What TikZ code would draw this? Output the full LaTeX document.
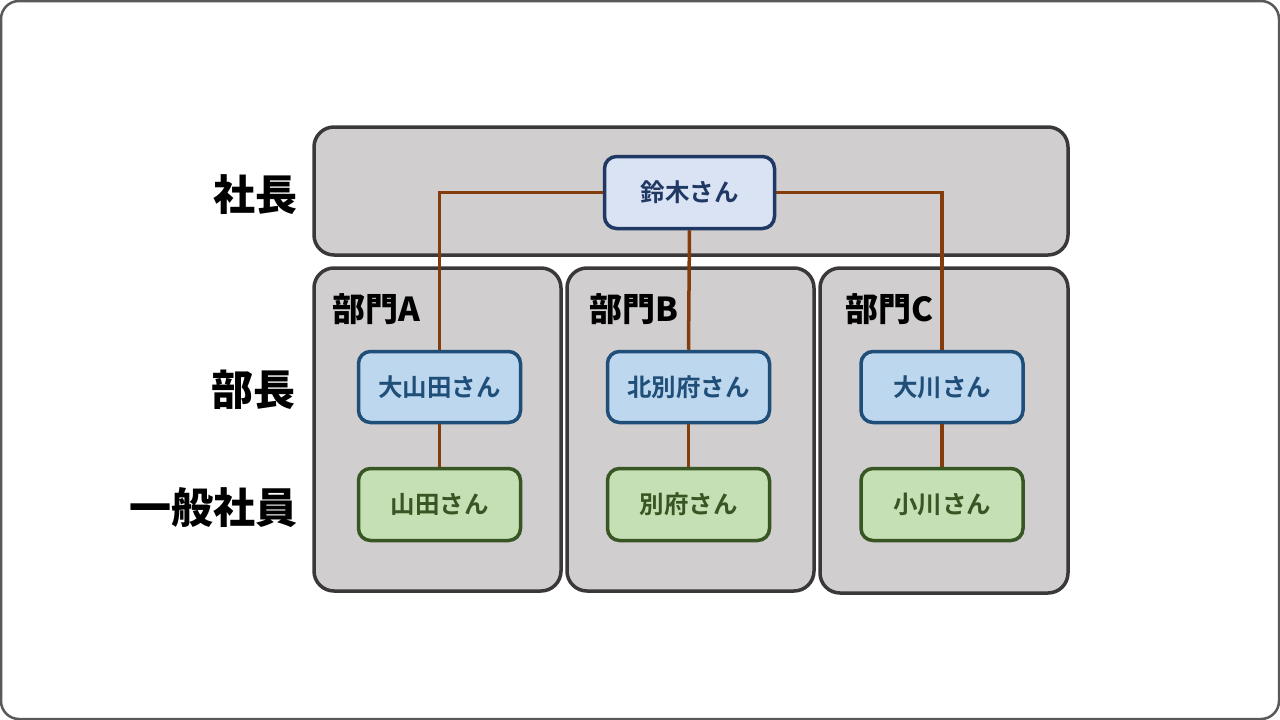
\documentclass[tikz,border=0pt]{standalone}
\usepackage{fontspec}
\setmainfont{Noto Sans CJK JP}[BoldFont={Noto Sans CJK JP Black}]
\newfontfamily\jpbold{Noto Sans CJK JP Bold}
\definecolor{framegray}{HTML}{595959}
\definecolor{panelfill}{HTML}{D0CECE}
\definecolor{paneldraw}{HTML}{3B3838}
\definecolor{topfill}{HTML}{DAE3F3}
\definecolor{topdraw}{HTML}{203864}
\definecolor{midfill}{HTML}{BDD7EE}
\definecolor{middraw}{HTML}{1F4E79}
\definecolor{lowfill}{HTML}{C5E0B4}
\definecolor{lowdraw}{HTML}{375623}
\definecolor{linkcol}{HTML}{843C0C}
\tikzset{
  panel/.style={draw=paneldraw, fill=panelfill, line width=3.5pt, rounded corners=20pt},
  person/.style={rounded corners=12pt, line width=3.5pt, font=\fontsize{24.5}{28}\selectfont\jpbold, inner sep=0pt},
  toprole/.style={person, draw=topdraw, fill=topfill, text=topdraw, minimum width=170pt, minimum height=72pt},
  midrole/.style={person, draw=middraw, fill=midfill, text=middraw, minimum width=162pt, minimum height=71pt},
  lowrole/.style={person, draw=lowdraw, fill=lowfill, text=lowdraw, minimum width=162pt, minimum height=72pt},
  rowlabel/.style={anchor=east, font=\fontsize{42}{46}\selectfont\bfseries, inner sep=0pt},
  deptlabel/.style={anchor=west, font=\fontsize{33}{36}\selectfont\bfseries, inner sep=0pt},
  link/.style={draw=linkcol, line width=3.5pt}
}
\begin{document}
\begin{tikzpicture}[x=1pt, y=-1pt]
\useasboundingbox (0,0) rectangle (1280,720);
\draw[framegray, line width=2.5pt, rounded corners=18pt] (1,1) rectangle (1279,719);
% panels
\draw[panel] (314,127) rectangle (1068,255);
\draw[panel] (314,268) rectangle (561,591);
\draw[panel] (567,268) rectangle (814,591);
\draw[panel] (820,268) rectangle (1068,593);
% row labels
\node[rowlabel] (lbl1) at (298,195) {社長};
\node[rowlabel] (lbl2) at (296,390) {部長};
\node[rowlabel] (lbl3) at (298,508) {一般社員};
% dept labels
\node[deptlabel] (dA) at (332,309) {部門A};
\node[deptlabel] (dB) at (589,309) {部門B};
\node[deptlabel] (dC) at (845,309) {部門C};
% people
\node[toprole] (suzuki) at (689.5,192.5) {鈴木さん};
\node[midrole] (oyamada) at (439.5,387) {大山田さん};
\node[midrole] (kitabeppu) at (688.5,387) {北別府さん};
\node[midrole] (okawa) at (942,387) {大川さん};
\node[lowrole] (yamada) at (439.5,504.5) {山田さん};
\node[lowrole] (beppu) at (688.5,504.5) {別府さん};
\node[lowrole] (ogawa) at (942,504.5) {小川さん};
% connectors
\draw[link] (suzuki.west) -| (oyamada.north);
\draw[link] (suzuki.east) -| (okawa.north);
\draw[link] (suzuki.south) -- (kitabeppu.north);
\draw[link] (oyamada.south) -- (yamada.north);
\draw[link] (kitabeppu.south) -- (beppu.north);
\draw[link] (okawa.south) -- (ogawa.north);
\end{tikzpicture}
\end{document}
